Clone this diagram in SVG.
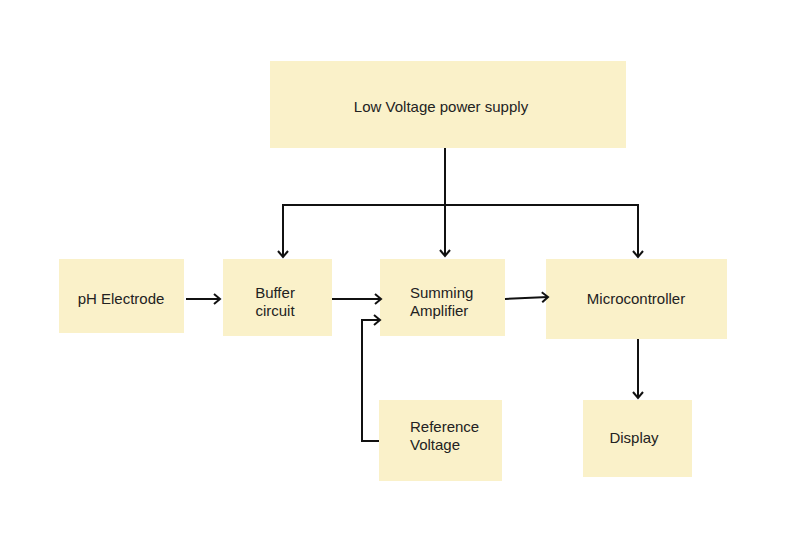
<svg xmlns="http://www.w3.org/2000/svg" width="800" height="540" viewBox="0 0 800 540">
<defs>
<style>
.box{fill:#faf1c9;}
.t{font-family:"Liberation Sans",Arial,sans-serif;font-size:15px;fill:#222;text-anchor:middle;}
.l{text-anchor:start;}
.c{fill:none;stroke:#111;stroke-width:2;stroke-linejoin:miter;}
</style>
<marker id="ah" viewBox="0 0 12 12" refX="10" refY="6" markerWidth="12" markerHeight="12" markerUnits="userSpaceOnUse" orient="auto">
<polyline points="4,1 10,6 4,11" fill="none" stroke="#111" stroke-width="2"/>
</marker>
</defs>
<rect width="800" height="540" fill="#ffffff"/>
<g id="power"><rect class="box" x="270" y="61" width="356" height="87"/><text class="t" x="441" y="112">Low Voltage power supply</text></g>
<g id="ph"><rect class="box" x="59" y="259" width="125" height="74"/><text class="t" x="121" y="304">pH Electrode</text></g>
<g id="buffer"><rect class="box" x="223" y="259" width="109" height="77"/><text class="t" x="275" y="298">Buffer</text><text class="t" x="275" y="316">circuit</text></g>
<g id="summing"><rect class="box" x="380" y="259" width="125" height="77"/><text class="t l" x="410" y="298">Summing</text><text class="t l" x="410" y="316">Amplifier</text></g>
<g id="micro"><rect class="box" x="546" y="259" width="181" height="80"/><text class="t" x="636" y="304">Microcontroller</text></g>
<g id="reference"><rect class="box" x="379" y="400" width="123" height="81"/><text class="t l" x="410" y="432">Reference</text><text class="t l" x="410" y="450">Voltage</text></g>
<g id="display"><rect class="box" x="583" y="400" width="109" height="77"/><text class="t" x="634" y="443">Display</text></g>
<g id="connectors">
<polyline class="c" points="445,148 445,256" marker-end="url(#ah)"/>
<polyline class="c" points="283,205 638,205"/>
<polyline class="c" points="283,204 283,257" marker-end="url(#ah)"/>
<polyline class="c" points="638,204 638,257" marker-end="url(#ah)"/>
<polyline class="c" points="186,299 220,299" marker-end="url(#ah)"/>
<polyline class="c" points="332,299 381,299" marker-end="url(#ah)"/>
<polyline class="c" points="505,299 548,297" marker-end="url(#ah)"/>
<polyline class="c" points="379,441 362,441 362,320 380,320" marker-end="url(#ah)"/>
<polyline class="c" points="638,339 638,398" marker-end="url(#ah)"/>
</g>
</svg>
